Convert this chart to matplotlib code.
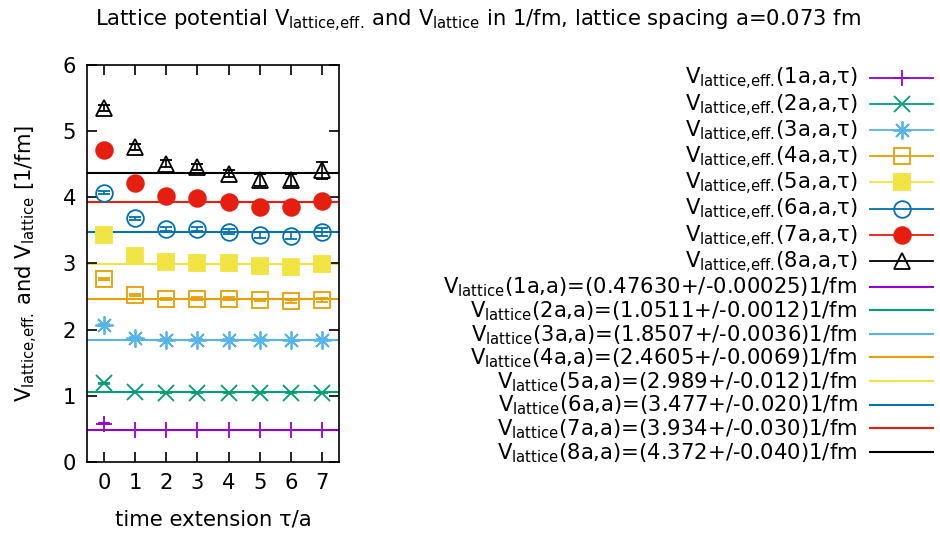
import numpy as np
import matplotlib
matplotlib.use('Agg')
from matplotlib import pyplot as plt
from matplotlib.lines import Line2D

plt.rcParams['font.family'] = ['DejaVu Sans']
plt.rcParams['mathtext.default'] = 'regular'

tau = [0, 1, 2, 3, 4, 5, 6, 7]

# effective potential per separation r = 1a .. 8a
v_eff = [
    [0.58, 0.48, 0.48, 0.48, 0.48, 0.48, 0.48, 0.48],
    [1.19, 1.06, 1.05, 1.05, 1.05, 1.05, 1.05, 1.05],
    [2.07, 1.88, 1.85, 1.85, 1.85, 1.85, 1.84, 1.85],
    [2.77, 2.53, 2.46, 2.47, 2.47, 2.45, 2.43, 2.45],
    [3.43, 3.12, 3.02, 3.01, 3.00, 2.96, 2.95, 2.99],
    [4.07, 3.68, 3.52, 3.52, 3.48, 3.43, 3.42, 3.48],
    [4.71, 4.21, 4.02, 3.99, 3.93, 3.85, 3.85, 3.94],
    [5.35, 4.76, 4.51, 4.46, 4.36, 4.26, 4.26, 4.41],
]
v_eff_err = [
    [0.002, 0.002, 0.002, 0.002, 0.002, 0.002, 0.002, 0.002],
    [0.004, 0.004, 0.004, 0.004, 0.004, 0.004, 0.004, 0.004],
    [0.008, 0.008, 0.008, 0.009, 0.01, 0.01, 0.01, 0.01],
    [0.012, 0.014, 0.015, 0.018, 0.02, 0.02, 0.025, 0.025],
    [0.02, 0.02, 0.025, 0.03, 0.03, 0.035, 0.04, 0.04],
    [0.025, 0.03, 0.03, 0.035, 0.04, 0.05, 0.05, 0.06],
    [0.03, 0.04, 0.04, 0.05, 0.05, 0.06, 0.07, 0.08],
    [0.04, 0.04, 0.05, 0.05, 0.06, 0.09, 0.09, 0.13],
]
v_lattice = [0.47630, 1.0511, 1.8507, 2.4605, 2.989, 3.477, 3.934, 4.372]
v_lattice_txt = ['0.47630+/-0.00025', '1.0511+/-0.0012', '1.8507+/-0.0036', '2.4605+/-0.0069',
                 '2.989+/-0.012', '3.477+/-0.020', '3.934+/-0.030', '4.372+/-0.040']

colors = ['#9400d3', '#009e73', '#56b4e9', '#e69f00', '#f0e442', '#0072b2', '#e51e10', '#000000']
markers = ['+', 'x', (8, 2, 0), 's', 's', 'o', 'o', '^']
filled = [True, True, True, False, True, False, True, False]
msizes = [12, 12, 13, 12, 12, 12, 12, 11]

fig = plt.figure(figsize=(9.4, 5.39), dpi=100)
ax = fig.add_axes([0.0926, 0.1429, 0.268, 0.7365])

fs = 15.2
eff = r'V$_{lattice{,}eff.\!}$'
lat = r'V$_{lattice}$'
handles_eff = []
handles_lat = []
for i in range(8):
    c = colors[i]
    if filled[i]:
        mk = dict(marker=markers[i], color=c, markerfacecolor=c, markeredgecolor=c, ms=msizes[i])
    else:
        mk = dict(marker=markers[i], color=c, markerfacecolor='none', markeredgecolor=c, ms=msizes[i])
    ax.errorbar(tau, v_eff[i], yerr=v_eff_err[i], linestyle='none', ecolor=c,
                elinewidth=1.2, capsize=4, capthick=1.2, mew=1.3, **mk)
    ax.axhline(v_lattice[i], color=c, lw=1.5, zorder=1)
    handles_eff.append(Line2D([], [], lw=1.3, mew=1.3, **mk))
    handles_lat.append(Line2D([], [], color=c, lw=1.5))

ax.set_xlim(-0.55, 7.55)
ax.set_ylim(0, 6)
ax.set_xticks(tau)
ax.set_yticks([0, 1, 2, 3, 4, 5, 6])
ax.tick_params(direction='in', top=True, right=True, length=7, width=1.2, labelsize=fs, pad=8)
for s in ax.spines.values():
    s.set_linewidth(1.2)
ax.set_xlabel('time extension τ/a', fontsize=fs, labelpad=12)
ax.set_ylabel(eff + ' and ' + lat + ' [1/fm]', fontsize=fs, labelpad=16)

fig.text(0.509, 0.985, 'Lattice potential ' + eff + ' and ' + lat + ' in 1/fm, lattice spacing a=0.073 fm',
         ha='center', va='top', fontsize=fs)

labels = [eff + '(%da,a,τ)' % (i + 1) for i in range(8)]
labels += [lat + '(%da,a)=(%s)1/fm' % (i + 1, v_lattice_txt[i]) for i in range(8)]
fig.legend(handles_eff + handles_lat, labels, loc='upper right', bbox_to_anchor=(0.993, 0.877),
           frameon=False, markerfirst=False, fontsize=fs, handlelength=3.0, handletextpad=0.6,
           labelspacing=0.0, borderpad=0, borderaxespad=0)

fig.savefig('out.png', dpi=100)
